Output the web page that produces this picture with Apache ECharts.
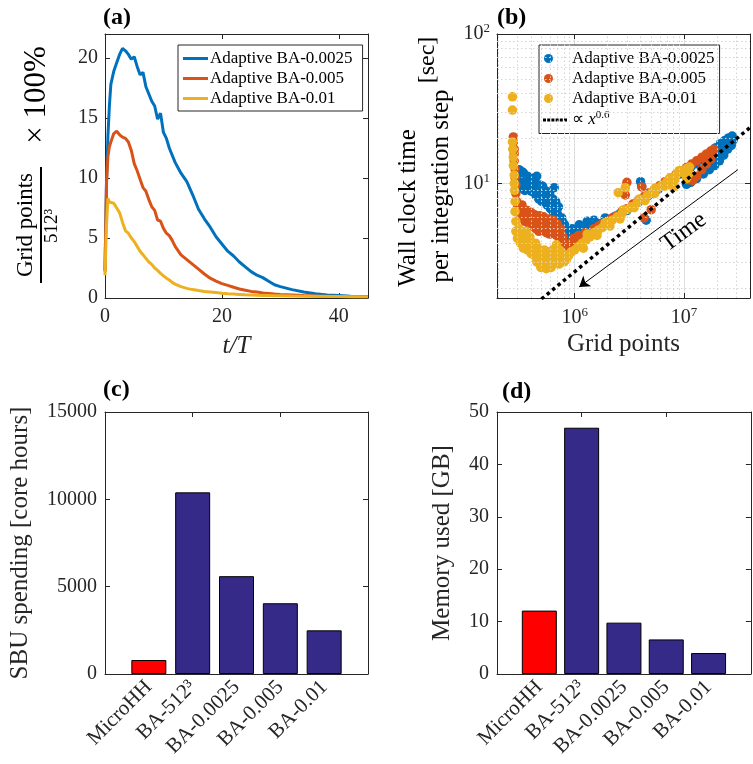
<!DOCTYPE html>
<html><head><meta charset="utf-8">
<script src="https://cdn.jsdelivr.net/npm/echarts@6/dist/echarts.min.js"></script>
<style>html,body{margin:0;padding:0;background:#fff}#c{width:753px;height:764px}</style>
</head><body><div id="c"></div>
<script>
const FONT = 'Liberation Serif';
const seriesNames = ['Adaptive BA-0.0025', 'Adaptive BA-0.005', 'Adaptive BA-0.01'];
const colors = ['#0072BD', '#D95319', '#EDB120'];

// ---- panel (a): grid points fraction vs t/T ----
const tOverT = [0,0.25,0.5,0.75,1,1.5,2,2.5,3,3.5,4,4.5,5,5.5,6,6.5,7,7.5,8,8.5,9,9.5,10,10.5,11,11.5,12,13,14,15,16,17,18,19,20,21,22,23,24,25,26,27,28,29,30,32,34,36,38,40,42,45];
const pctBlue = [2.3,9.5,13.5,16.0,17.8,18.9,19.6,20.3,20.8,20.6,20.3,19.9,20.1,19.3,18.6,18.8,17.6,17.0,16.4,16.0,14.9,15.4,13.8,13.3,12.5,11.9,11.3,10.4,9.7,8.6,7.4,6.6,5.9,5.1,4.5,3.9,3.5,3.0,2.6,2.2,1.9,1.7,1.4,1.1,0.95,0.7,0.5,0.35,0.25,0.2,0.15,0.12];
const pctRed = [2.2,9.5,11.8,12.6,13.0,13.7,13.9,13.6,13.4,13.3,13.0,12.3,11.2,10.6,9.9,9.2,8.9,8.2,7.6,7.3,6.5,6.4,5.8,5.4,5.2,4.8,4.3,3.6,3.2,2.8,2.4,2.0,1.65,1.4,1.2,1.05,0.9,0.75,0.65,0.55,0.5,0.42,0.38,0.33,0.3,0.25,0.2,0.17,0.15,0.13,0.12,0.1];
const pctYellow = [1.9,6.0,8.3,8.0,8.1,7.9,7.5,7.1,6.3,5.6,5.4,5.0,4.7,4.3,3.9,3.6,3.3,3.0,2.8,2.5,2.3,2.05,1.85,1.65,1.5,1.3,1.15,0.95,0.8,0.7,0.62,0.55,0.5,0.45,0.4,0.36,0.33,0.3,0.27,0.25,0.23,0.21,0.2,0.19,0.18,0.16,0.15,0.14,0.13,0.12,0.11,0.1];

// ---- panel (b): wall clock time vs grid points [gridPoints, seconds] ----
const wallBlue = [[3.0e5,11.5],[3.1e5,12.4],[3.2e5,10.2],[3.3e5,9.3],[3.3e5,12.0],[3.4e5,11.8],[3.5e5,9.0],[3.6e5,10.5],[3.7e5,11.2],[3.8e5,9.4],[3.9e5,11.0],[4.0e5,8.9],[4.1e5,9.8],[4.2e5,10.3],[4.3e5,10.8],[4.4e5,8.4],[4.5e5,11.2],[4.6e5,9.3],[4.7e5,7.9],[4.8e5,9.8],[4.9e5,8.8],[5.0e5,7.6],[5.1e5,9.6],[5.2e5,8.5],[5.4e5,7.7],[5.5e5,8.9],[5.6e5,7.2],[5.8e5,8.0],[5.9e5,8.6],[6.0e5,6.8],[6.2e5,7.4],[6.3e5,7.9],[6.4e5,6.4],[6.5e5,9.4],[6.6e5,6.9],[6.7e5,7.6],[6.8e5,5.8],[7.0e5,6.2],[7.1e5,7.0],[7.3e5,5.2],[7.5e5,4.7],[7.6e5,5.9],[7.8e5,5.5],[8.0e5,4.5],[8.1e5,5.3],[8.3e5,4.3],[8.6e5,4.8],[9.0e5,4.5],[9.5e5,5.0],[1.0e6,4.8],[1.1e6,5.3],[1.2e6,5.0],[1.3e6,5.6],[1.4e6,5.3],[1.5e6,5.7],[1.7e6,5.4],[1.9e6,5.9],[2.1e6,5.6],[2.3e6,6.0],[2.6e6,6.3],[3.0e6,6.6],[3.4e6,7.0],[3.8e6,7.5],[4.2e6,7.9],[4.7e6,8.3],[5.2e6,8.7],[5.8e6,9.2],[6.5e6,9.8],[7.3e6,10.4],[8.2e6,11.0],[9.2e6,11.6],[1.03e7,12.3],[1.15e7,12.9],[1.28e7,13.6],[1.42e7,14.4],[1.58e7,15.3],[1.75e7,16.3],[1.95e7,17.4],[2.15e7,18.5],[2.35e7,19.4],[2.55e7,20.2],[2.75e7,20.8],[2.8e7,19.5],[2.7e7,18.0],[2.5e7,17.0],[2.3e7,15.5],[2.1e7,14.2],[1.9e7,13.2],[1.7e7,12.4],[1.5e7,11.6],[1.3e7,10.8],[1.15e7,10.2],[1.05e7,9.9],[2.6e7,19.0],[2.4e7,18.0],[2.2e7,16.6],[2.0e7,15.4],[1.8e7,14.3],[4.0e6,10.3],[4.1e6,9.6],[4.5e6,5.7]];
const wallRed = [[2.75e5,20.5],[2.75e5,19.0],[2.8e5,17.0],[2.8e5,15.8],[2.8e5,14.2],[2.85e5,12.5],[2.85e5,11.0],[2.9e5,9.8],[2.9e5,8.6],[2.95e5,7.6],[3.0e5,6.9],[3.1e5,6.4],[3.2e5,7.0],[3.3e5,6.0],[3.3e5,7.2],[3.4e5,6.6],[3.5e5,5.6],[3.6e5,6.2],[3.7e5,6.6],[3.8e5,5.4],[3.9e5,6.0],[4.0e5,6.4],[4.1e5,5.2],[4.2e5,5.8],[4.3e5,6.2],[4.4e5,5.0],[4.5e5,5.6],[4.7e5,4.8],[4.8e5,6.1],[4.9e5,5.5],[5.1e5,4.9],[5.2e5,6.0],[5.3e5,5.6],[5.5e5,4.7],[5.7e5,5.3],[5.8e5,5.8],[5.9e5,4.6],[6.1e5,5.5],[6.3e5,4.8],[6.4e5,5.7],[6.5e5,5.2],[6.8e5,4.5],[6.9e5,5.4],[7.0e5,5.0],[7.3e5,4.3],[7.4e5,5.0],[7.6e5,4.6],[7.8e5,4.4],[7.9e5,4.0],[8.0e5,3.5],[8.2e5,3.8],[8.5e5,3.6],[8.6e5,3.4],[8.8e5,3.9],[9.2e5,4.0],[9.7e5,4.3],[1.02e6,4.1],[1.08e6,4.5],[1.15e6,4.4],[1.25e6,4.7],[1.35e6,4.6],[1.5e6,5.0],[1.65e6,5.2],[1.8e6,5.4],[2.0e6,5.6],[2.2e6,5.9],[2.4e6,6.1],[2.7e6,6.5],[3.0e6,6.8],[3.4e6,7.3],[3.8e6,7.7],[4.3e6,8.2],[4.8e6,8.7],[5.4e6,9.2],[6.0e6,9.7],[6.7e6,10.3],[7.5e6,10.9],[8.4e6,11.5],[9.4e6,12.1],[1.05e7,12.8],[1.17e7,13.5],[1.3e7,14.2],[1.45e7,15.0],[1.6e7,15.8],[1.75e7,16.5],[1.87e7,17.0],[1.85e7,15.8],[1.75e7,14.6],[1.6e7,13.5],[1.45e7,12.4],[1.3e7,11.2],[1.2e7,10.5],[1.1e7,10.6],[3.0e6,10.2],[2.9e6,8.4],[4.3e6,5.9],[5.0e6,6.7],[4.1e6,9.5]];
const wallYellow = [[2.7e5,38],[2.7e5,31],[2.7e5,19.0],[2.72e5,17.0],[2.75e5,15.0],[2.75e5,13.2],[2.8e5,11.4],[2.8e5,10.0],[2.82e5,9.0],[2.85e5,7.6],[2.85e5,6.5],[2.9e5,5.6],[2.9e5,4.8],[3.0e5,4.3],[3.1e5,5.0],[3.2e5,4.0],[3.3e5,4.6],[3.4e5,3.7],[3.5e5,4.3],[3.6e5,4.8],[3.7e5,3.6],[3.8e5,4.1],[3.9e5,4.4],[4.0e5,3.4],[4.1e5,3.9],[4.2e5,3.6],[4.3e5,3.3],[4.4e5,4.0],[4.5e5,3.0],[4.6e5,3.7],[4.7e5,3.3],[4.8e5,2.9],[4.9e5,2.75],[5.0e5,3.4],[5.1e5,3.0],[5.2e5,2.8],[5.3e5,3.6],[5.4e5,3.2],[5.5e5,2.7],[5.6e5,3.3],[5.7e5,2.9],[5.9e5,3.5],[6.0e5,2.8],[6.1e5,2.75],[6.2e5,3.0],[6.3e5,3.6],[6.5e5,3.3],[6.7e5,3.0],[6.8e5,3.9],[7.0e5,3.2],[7.2e5,2.9],[7.3e5,3.6],[7.6e5,3.1],[7.8e5,3.4],[8.0e5,3.0],[8.4e5,3.1],[8.8e5,3.3],[9.3e5,3.5],[1.0e6,3.6],[1.08e6,3.8],[1.17e6,4.0],[1.2e6,3.7],[1.27e6,4.2],[1.3e6,4.6],[1.38e6,4.4],[1.5e6,4.7],[1.6e6,4.5],[1.65e6,4.9],[1.8e6,5.1],[1.9e6,5.5],[2.0e6,5.4],[2.1e6,5.2],[2.2e6,5.7],[2.45e6,6.0],[2.6e6,5.8],[2.7e6,6.3],[2.8e6,6.7],[3.0e6,6.7],[3.3e6,7.0],[3.5e6,6.9],[3.7e6,7.4],[3.9e6,7.9],[4.1e6,7.8],[4.4e6,7.7],[4.6e6,8.3],[5.1e6,8.8],[5.4e6,8.6],[5.4e6,9.3],[5.7e6,9.3],[6.3e6,9.8],[6.7e6,9.6],[7.0e6,10.4],[7.4e6,10.9],[7.8e6,11.0],[8.2e6,10.6],[8.6e6,11.6],[9.0e6,12.2],[9.5e6,12.1],[1.0e7,11.8],[1.05e7,12.6],[1.12e7,12.9],[1.1e7,11.6],[2.5e6,8.7],[2.9e6,9.4],[8.0e6,9.5],[1.05e7,10.8]];
const fitLine = [[2e5, 0.98], [4e7, 23.7]];
const timeArrow = [[3.1e7, 12.4], [1.1e6, 2.04]];
const minorX = [2e5,3e5,4e5,5e5,6e5,7e5,8e5,9e5,2e6,3e6,4e6,5e6,6e6,7e6,8e6,9e6,2e7,3e7];
const minorY = [2,3,4,5,6,7,8,9,20,30,40,50,60,70,80,90];

// ---- panels (c), (d) ----
const barCats = ['', 'MicroHH', 'BA-512³', 'BA-0.0025', 'BA-0.005', 'BA-0.01', ''];
const sbuValues = [800, 10400, 5600, 4050, 2500];
const memValues = [12.1, 47, 9.8, 6.6, 4.0];

const AX = '#262626';
const tickLbl = { fontFamily: FONT, fontSize: 20, color: AX };
function boxAxis(extra) {
  return Object.assign({
    axisLine: { show: true, onZero: false, lineStyle: { color: AX, width: 1 } },
    axisTick: { show: true, inside: true, length: 5, lineStyle: { color: AX } },
    splitLine: { show: false }
  }, extra);
}
function hidden(extra) {
  return boxAxis(Object.assign({ axisLabel: { show: false } }, extra));
}
const supRich = { b: { fontFamily: FONT, fontSize: 20, color: AX }, sup: { fontFamily: FONT, fontSize: 13, color: AX, padding: [0, 0, 10, 0] } };
function logLabel(v) {
  const e = Math.log10(v);
  if (Math.abs(e - Math.round(e)) > 1e-6) return '';
  return '{b|10}{sup|' + Math.round(e) + '}';
}
const everyN = n => v => (Math.abs(v % n) < 1e-9 ? String(v) : '');
function barData(vals) {
  return barCats.map((c, i) => (i === 0 || i === barCats.length - 1) ? '-' :
    { value: vals[i - 1], itemStyle: { color: i === 1 ? '#FF0000' : '#352A87' } });
}
const catLabel = { rotate: 45, fontFamily: FONT, fontSize: 21, color: AX, margin: 10, interval: 0 };
// legend icons: invisible moves (M0,0 M24,9) fix the 24x9 box so shapes keep their aspect
const dottedIcon = 'path://M0,0M24,9M0,3h3v3h-3zM4.2,3h3v3h-3zM8.4,3h3v3h-3zM12.6,3h3v3h-3zM16.8,3h3v3h-3zM21,3h3v3h-3z';
const dotIcon = 'path://M0,0M24,9M1,4.5a4.5,4.5 0 1,0 9,0a4.5,4.5 0 1,0 -9,0z';

const chart = echarts.init(document.getElementById('c'), null, { renderer: 'canvas' });
const option = {
  animation: false,
  backgroundColor: '#fff',
  title: [
    { text: '(a)', left: 103, top: 6, padding: 0, textStyle: { fontFamily: FONT, fontWeight: 'bold', fontSize: 24, color: '#000' } },
    { text: '(b)', left: 497, top: 6, padding: 0, textStyle: { fontFamily: FONT, fontWeight: 'bold', fontSize: 24, color: '#000' } },
    { text: '(c)', left: 103, top: 378, padding: 0, textStyle: { fontFamily: FONT, fontWeight: 'bold', fontSize: 24, color: '#000' } },
    { text: '(d)', left: 502, top: 380, padding: 0, textStyle: { fontFamily: FONT, fontWeight: 'bold', fontSize: 24, color: '#000' } }
  ],
  grid: [
    { left: 105, top: 34, width: 263, height: 264 },
    { left: 497, top: 34, width: 264, height: 264 },
    { left: 105, top: 412, width: 263, height: 262 },
    { left: 497, top: 412, width: 264, height: 262 }
  ],
  legend: [
    {
      data: seriesNames.map(n => ({ name: n, icon: 'rect' })), orient: 'vertical', left: 178, top: 45,
      itemWidth: 25, itemHeight: 3, itemGap: 3, padding: [5, 10, 4, 5],
      borderColor: '#262626', borderWidth: 1, backgroundColor: '#fff',
      textStyle: { fontFamily: FONT, fontSize: 17, color: '#000', padding: [0, 0, 0, -3] }
    },
    {
      data: seriesNames.map(n => ({ name: n, icon: dotIcon })).concat([{ name: 'fitLine', icon: dottedIcon }]),
      orient: 'vertical', left: 539, top: 45,
      itemWidth: 24, itemHeight: 9, itemGap: 3, padding: [5, 5, 5, 4],
      borderColor: '#262626', borderWidth: 1, backgroundColor: '#fff',
      formatter: n => n === 'fitLine' ? '∝ {it|x}{sup|0.6}' : n,
      textStyle: { fontFamily: FONT, fontSize: 17, color: '#000',
        rich: { it: { fontFamily: FONT, fontStyle: 'italic', fontSize: 17, color: '#000' }, sup: { fontFamily: FONT, fontSize: 11, color: '#000', padding: [0, 0, 9, 0] } } }
    }
  ],
  xAxis: [
    boxAxis({ gridIndex: 0, type: 'value', min: 0, max: 45, interval: 20, position: 'bottom',
      axisLabel: Object.assign({ margin: 9, formatter: everyN(20) }, tickLbl),
      name: 't/T', nameLocation: 'middle', nameGap: 36,
      nameTextStyle: { fontFamily: FONT, fontStyle: 'italic', fontSize: 25, color: AX } }),
    hidden({ gridIndex: 0, type: 'value', min: 0, max: 45, interval: 20, position: 'top' }),
    boxAxis({ gridIndex: 1, type: 'log', logBase: 10, min: 1.95e5, max: 4e7, position: 'bottom',
      axisLabel: { formatter: logLabel, rich: supRich, margin: 8 },
      splitLine: { show: true, lineStyle: { color: '#dedede', width: 1 } },
      name: 'Grid points', nameLocation: 'middle', nameGap: 34,
      nameTextStyle: { fontFamily: FONT, fontSize: 25, color: AX } }),
    hidden({ gridIndex: 1, type: 'log', logBase: 10, min: 1.95e5, max: 4e7, position: 'top' }),
    boxAxis({ gridIndex: 2, type: 'category', data: barCats, boundaryGap: false, position: 'bottom',
      axisTick: { show: false }, axisLabel: catLabel }),
    hidden({ gridIndex: 2, type: 'category', data: barCats, boundaryGap: false, position: 'top' }),
    boxAxis({ gridIndex: 3, type: 'category', data: barCats, boundaryGap: false, position: 'bottom',
      axisTick: { show: false }, axisLabel: catLabel }),
    hidden({ gridIndex: 3, type: 'category', data: barCats, boundaryGap: false, position: 'top' })
  ],
  yAxis: [
    boxAxis({ gridIndex: 0, type: 'value', min: 0, max: 22, interval: 5, position: 'left',
      axisLabel: Object.assign({ margin: 7, formatter: everyN(5) }, tickLbl) }),
    hidden({ gridIndex: 0, type: 'value', min: 0, max: 22, interval: 5, position: 'right' }),
    boxAxis({ gridIndex: 1, type: 'log', logBase: 10, min: 1.72, max: 100, position: 'left',
      axisLabel: { formatter: logLabel, rich: supRich, margin: 7 },
      splitLine: { show: true, lineStyle: { color: '#dedede', width: 1 } } }),
    hidden({ gridIndex: 1, type: 'log', logBase: 10, min: 1.72, max: 100, position: 'right' }),
    boxAxis({ gridIndex: 2, type: 'value', min: 0, max: 15000, interval: 5000, position: 'left',
      axisLabel: Object.assign({ margin: 8, formatter: v => String(v) }, tickLbl),
      name: 'SBU spending [core hours]', nameLocation: 'middle', nameGap: 72,
      nameTextStyle: { fontFamily: FONT, fontSize: 25, color: AX } }),
    hidden({ gridIndex: 2, type: 'value', min: 0, max: 15000, interval: 5000, position: 'right' }),
    boxAxis({ gridIndex: 3, type: 'value', min: 0, max: 50, interval: 10, position: 'left',
      axisLabel: Object.assign({ margin: 8, formatter: v => String(v) }, tickLbl),
      name: 'Memory used [GB]', nameLocation: 'middle', nameGap: 42,
      nameTextStyle: { fontFamily: FONT, fontSize: 25, color: AX } }),
    hidden({ gridIndex: 3, type: 'value', min: 0, max: 50, interval: 10, position: 'right' })
  ],
  series: [
    // scatter series first so that legend look-ups by name find them
    {
      name: 'minorGrid', type: 'line', xAxisIndex: 2, yAxisIndex: 2, data: [], z: 1, silent: true,
      markLine: { silent: true, symbol: 'none', label: { show: false },
        lineStyle: { color: '#d4d4d4', type: [1.5, 2.5], width: 1 },
        data: minorX.map(v => ({ xAxis: v })).concat(minorY.map(v => ({ yAxis: v }))) }
    },
    ...[wallBlue, wallRed, wallYellow].map((arr, i) => ({
      name: seriesNames[i], type: 'scatter', xAxisIndex: 2, yAxisIndex: 2,
      data: arr, symbolSize: 9.5, itemStyle: { color: colors[i], opacity: 1 }
    })),
    ...[pctBlue, pctRed, pctYellow].map((arr, i) => ({
      name: seriesNames[i], type: 'line', xAxisIndex: 0, yAxisIndex: 0,
      data: tOverT.map((t, k) => [t, arr[k]]), showSymbol: false, symbol: 'none',
      lineStyle: { width: 3, color: colors[i] }, itemStyle: { color: colors[i] }
    })),
    {
      name: 'fitLine', type: 'line', xAxisIndex: 2, yAxisIndex: 2, data: fitLine,
      showSymbol: false, symbol: 'none', z: 5,
      lineStyle: { color: '#000', width: 3.5, type: [3.5, 3.5] }, itemStyle: { color: '#000' }
    },
    {
      name: 'timeArrow', type: 'line', xAxisIndex: 2, yAxisIndex: 2, data: [], z: 5, silent: true,
      markLine: {
        silent: true, symbol: ['none', 'arrow'], symbolSize: 10,
        lineStyle: { color: '#000', width: 1, type: 'solid' },
        label: { show: true, formatter: 'Time', position: 'insideMiddleBottom', distance: 6,
          padding: [0, 0, 0, 36], fontFamily: FONT, fontSize: 24, color: '#000' },
        data: [[{ coord: timeArrow[0] }, { coord: timeArrow[1] }]]
      }
    },
    {
      name: 'SBU', type: 'bar', xAxisIndex: 4, yAxisIndex: 4, data: barData(sbuValues),
      barWidth: 35, itemStyle: { borderColor: '#000', borderWidth: 1 }
    },
    {
      name: 'Memory', type: 'bar', xAxisIndex: 6, yAxisIndex: 6, data: barData(memValues),
      barWidth: 35, itemStyle: { borderColor: '#000', borderWidth: 1 }
    }
  ],
  graphic: [
    { type: 'text', x: 26, y: 225, rotation: Math.PI / 2, style: { text: 'Grid points', fontFamily: FONT, fontSize: 23, fill: '#000', align: 'center', verticalAlign: 'middle' } },
    { type: 'line', shape: { x1: 41, y1: 167, x2: 41, y2: 283 }, style: { stroke: '#000', lineWidth: 2 } },
    { type: 'text', x: 52, y: 226, rotation: Math.PI / 2, style: { text: '512³', fontFamily: FONT, fontSize: 19, fill: '#000', align: 'center', verticalAlign: 'middle' } },
    { type: 'text', x: 37, y: 95, rotation: Math.PI / 2, style: { text: '× 100%', fontFamily: FONT, fontSize: 31, fill: '#000', align: 'center', verticalAlign: 'middle' } },
    { type: 'text', x: 408, y: 208, rotation: Math.PI / 2, style: { text: 'Wall clock time', fontFamily: FONT, fontSize: 25, fill: '#000', align: 'center', verticalAlign: 'middle' } },
    { type: 'text', x: 441, y: 186, rotation: Math.PI / 2, style: { text: 'per integration step', fontFamily: FONT, fontSize: 25, fill: '#000', align: 'center', verticalAlign: 'middle' } },
    { type: 'text', x: 428, y: 60, rotation: Math.PI / 2, style: { text: '[sec]', fontFamily: FONT, fontSize: 24, fill: '#000', align: 'center', verticalAlign: 'middle' } }
  ]
};
chart.setOption(option);
</script>
</body></html>
